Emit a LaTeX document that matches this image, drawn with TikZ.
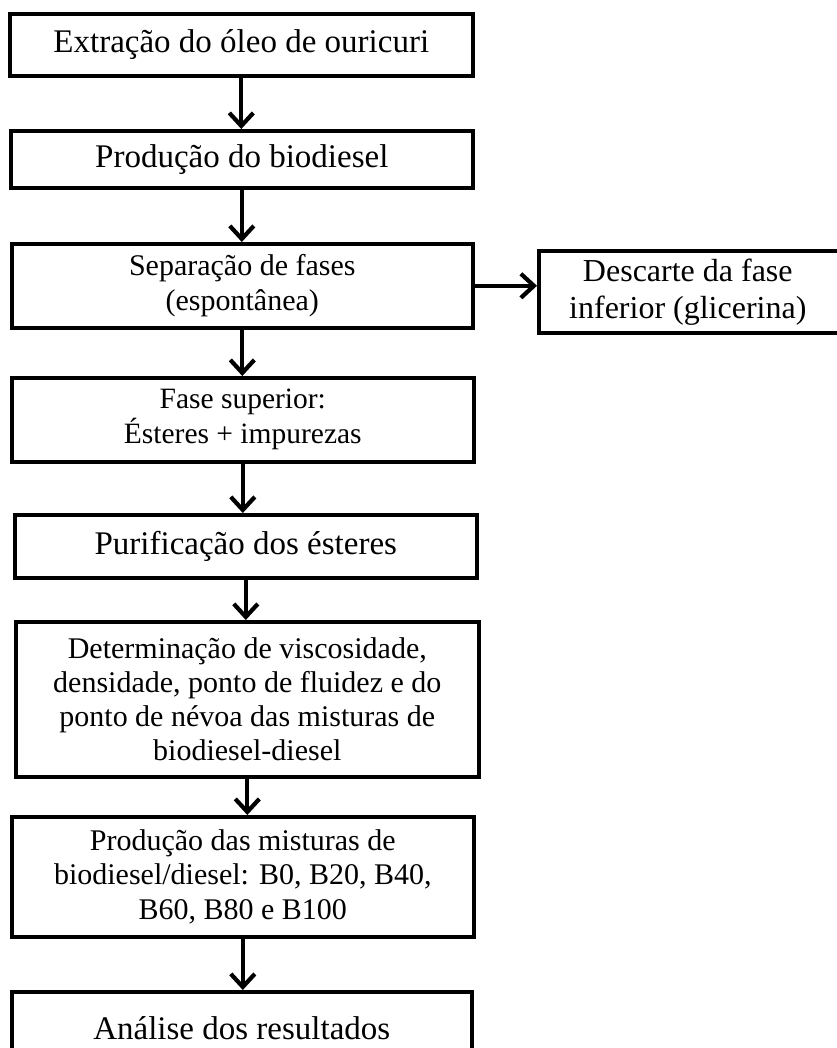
\documentclass[tikz,border=0pt]{standalone}
\usepackage{fontspec}
\setmainfont{Liberation Serif}
\usetikzlibrary{arrows.meta}
\begin{document}
\begin{tikzpicture}[x=1pt,y=-1pt,
  box/.style={draw, line width=3.6pt, inner sep=0pt, align=center, anchor=north west},
  big/.style={font=\fontsize{33}{38}\selectfont},
  mid/.style={font=\fontsize{30}{35}\selectfont},
  arr/.style={line width=3.8pt, -{Straight Barb[length=13pt,width=24pt,line width=4.2pt]}},
]
\useasboundingbox (0,0) rectangle (836,1048);
\fill[white] (0,0) rectangle (836,1048);

\node[box, big, minimum width=463pt, minimum height=62pt] (b1) at (8,12) {Extração do óleo de ouricuri};
\node[box, big, minimum width=462pt, minimum height=57pt] (b2) at (9,129) {Produção do biodiesel};
\node[box, mid, minimum width=461pt, minimum height=84pt] (b3) at (10,242) {Separação de fases\\(espontânea)};
\node[box, font=\fontsize{32}{37}\selectfont, minimum width=310pt, minimum height=82pt] (b4) at (537,249) {\hspace*{-12pt}Descarte da fase\\\hspace*{-12pt}inferior (glicerina)};
\node[box, font=\fontsize{29.5}{35}\selectfont, minimum width=462pt, minimum height=84pt] (b5) at (10,376) {Fase superior:\\Ésteres + impurezas};
\node[box, big, minimum width=462pt, minimum height=63pt] (b6) at (13,513) {Purificação dos ésteres};
\node[box, font=\fontsize{30}{34}\selectfont, minimum width=463pt, minimum height=155pt] (b7) at (14,620) {Determinação de viscosidade,\\densidade, ponto de fluidez e do\\ponto de névoa das misturas de\\biodiesel-diesel};
\node[box, font=\fontsize{30}{34.5}\selectfont, minimum width=462pt, minimum height=120pt] (b8) at (10,815) {Produção das misturas de\\biodiesel/diesel: B0, B20, B40,\\B60, B80 e B100};
\node[box, big, minimum width=460pt, minimum height=72pt] (b9) at (10,990) {Análise dos resultados};

\draw[arr] (b1.south) -- (b1.south |- b2.north);
\draw[arr] (b2.south) -- (b2.south |- b3.north);
\draw[arr] (b3.south) -- (b3.south |- b5.north);
\draw[arr] (b3.east) -- (b3.east -| b4.west);
\draw[arr] (b5.south) -- (b5.south |- b6.north);
\draw[arr] (b6.south) -- (b6.south |- b7.north);
\draw[arr] (b7.south) -- (b7.south |- b8.north);
\draw[arr] (b8.south) -- (b8.south |- b9.north);
\end{tikzpicture}
\end{document}
